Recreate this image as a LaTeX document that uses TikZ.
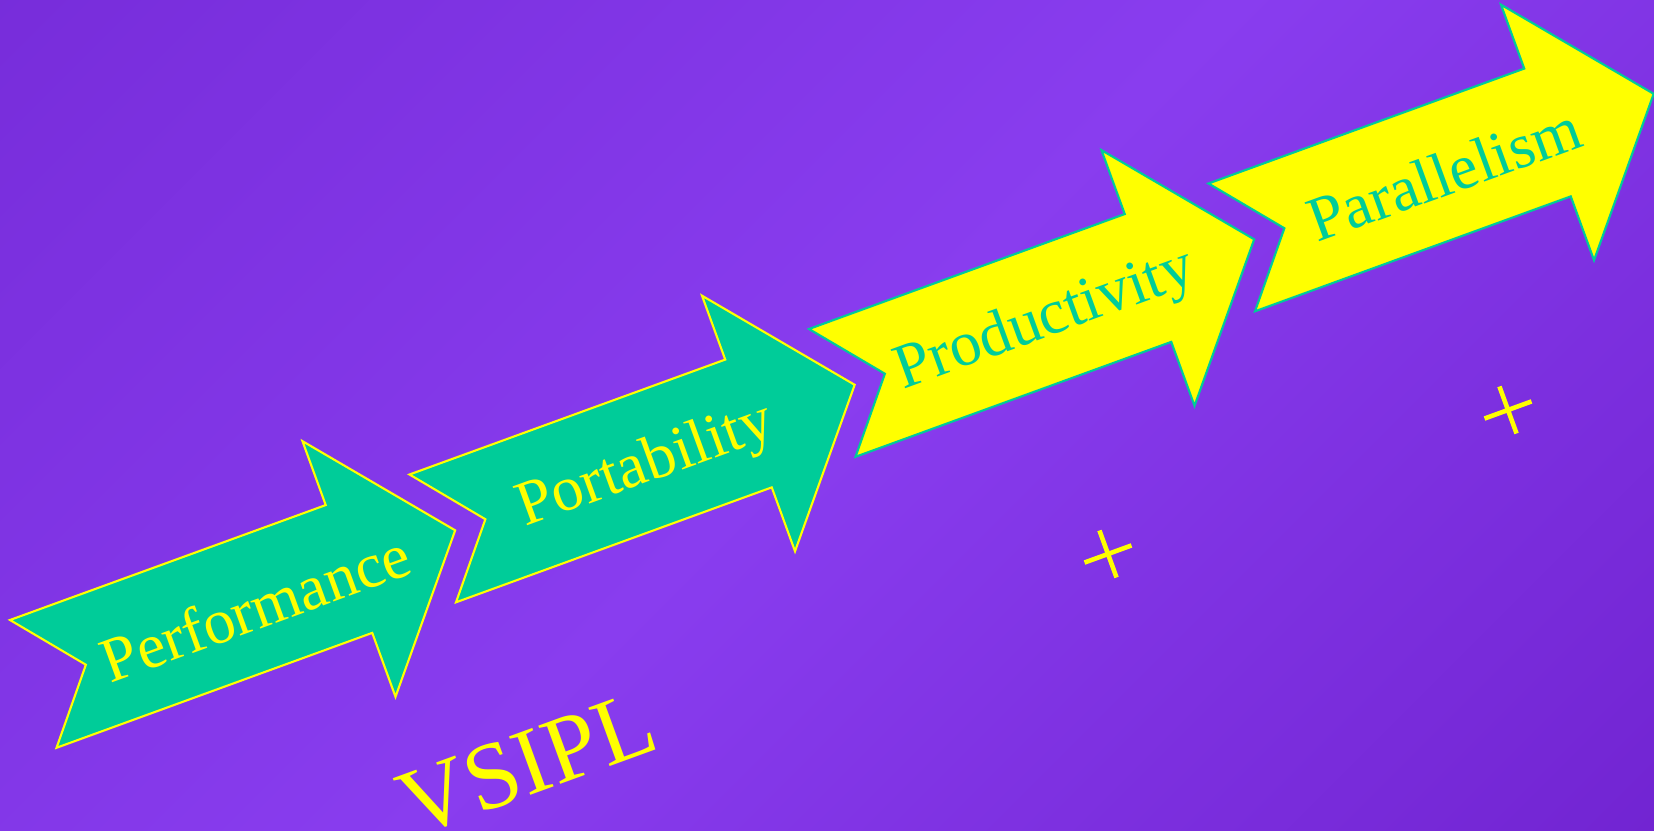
\documentclass[tikz,border=0pt]{standalone}
\usepackage{fontspec}
\setmainfont{Liberation Serif}
\definecolor{bgmid}{RGB}{137,61,239}
\definecolor{bgtop}{RGB}{112,38,210}
\definecolor{bgbot}{RGB}{104,26,198}
\definecolor{sea}{RGB}{0,204,153}
\definecolor{lemon}{RGB}{255,255,0}
\pgfdeclareverticalshading{bgshade}{100bp}{color(0bp)=(bgbot); color(50bp)=(bgmid); color(100bp)=(bgtop)}

\begin{document}
\begin{tikzpicture}[x=0.01cm, y=0.01cm,
    greenarrow/.style={fill=sea, draw=lemon, line width=0.6pt},
    yellowarrow/.style={fill=lemon, draw=sea, line width=0.6pt},
    word/.style={font=\fontsize{18}{18}\selectfont, rotate=20, anchor=base, inner sep=0pt},
    plusmark/.style={draw=lemon, line width=1.3pt}]
    \useasboundingbox (0,0) rectangle (1654,830);
    \shade[shading=bgshade, shading angle=45] (0,0) rectangle (1654,830);

    % --- Arrow 1: Performance ---
    \draw[greenarrow, shift={(10,210)}, rotate=20] (0,0) -- (336,0) -- (336,68) -- (449,-68) -- (336,-204) -- (336,-136) -- (0,-136) -- (56,-68) -- cycle;
    \node[word, text=lemon] (perf) at (262.9,202) {Performance};

    % --- Arrow 2: Portability ---
    \draw[greenarrow, shift={(409.5,355.5)}, rotate=20] (0,0) -- (336,0) -- (336,68) -- (449,-68) -- (336,-204) -- (336,-136) -- (0,-136) -- (56,-68) -- cycle;
    \node[word, text=lemon] (port) at (651.3,348.8) {Portability};

    % --- Arrow 3: Productivity ---
    \draw[yellowarrow, shift={(809,501)}, rotate=20] (0,0) -- (336,0) -- (336,68) -- (449,-68) -- (336,-204) -- (336,-136) -- (0,-136) -- (56,-68) -- cycle;
    \node[word, text=sea] (prod) at (1050.8,494.3) {Productivity};

    % --- Arrow 4: Parallelism ---
    \draw[yellowarrow, shift={(1208.5,646.5)}, rotate=20] (0,0) -- (336,0) -- (336,68) -- (449,-68) -- (336,-204) -- (336,-136) -- (0,-136) -- (56,-68) -- cycle;
    \node[word, text=sea] (para) at (1451.7,636) {Parallelism};

    % --- VSIPL and the two marks ---
    \node[word, font=\fontsize{27}{27}\selectfont, text=lemon] (vsipl) at (537.7,37.5) {VSIPL};
    \draw[plusmark, shift={(1108,276)}, rotate=20] (-25,0) -- (25,0) (0,-25) -- (0,25);
    \draw[plusmark, shift={(1508,420)}, rotate=20] (-25,0) -- (25,0) (0,-25) -- (0,25);

\end{tikzpicture}
\end{document}
